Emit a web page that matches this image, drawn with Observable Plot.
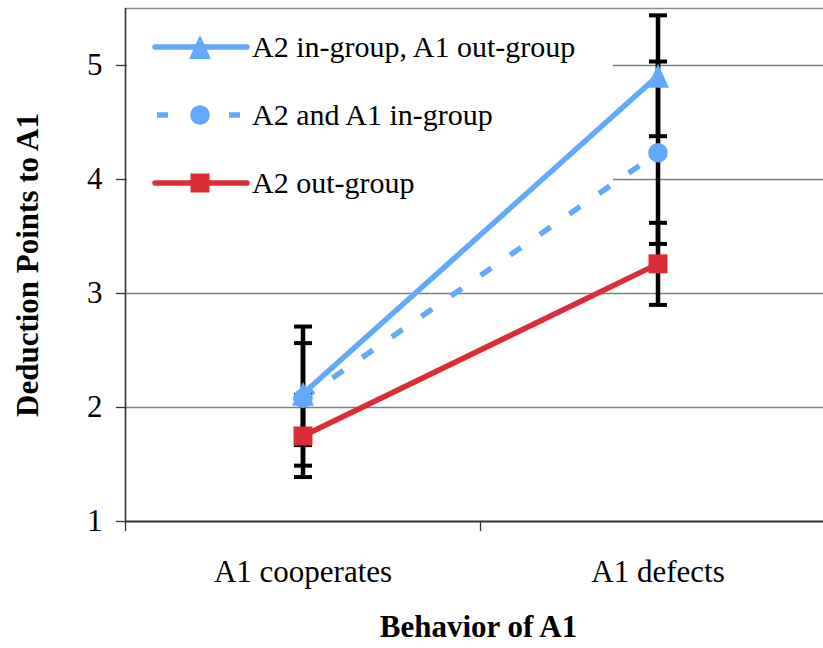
<!DOCTYPE html>
<html><head><meta charset="utf-8">
<script src="https://cdn.jsdelivr.net/npm/d3@7"></script>
<script src="https://cdn.jsdelivr.net/npm/@observablehq/plot@0.6"></script>
<style>
body{margin:0;background:#fff;}
#wrap{position:relative;width:823px;height:648px;font-family:"Liberation Serif","Times New Roman",serif;}
#legend{position:absolute;left:0;top:0;}
</style></head><body><div id="wrap"></div>
<script>
// ---- data ----
const categories = ["A1 cooperates", "A1 defects"];
const seriesNames = ["A2 in-group, A1 out-group", "A2 and A1 in-group", "A2 out-group"];
const inOutMeans = [2.12, 4.91];
const inOutErrUp = [0.59, 0.53];
const inOutErrDown = [0.63, 0.53];
const inInMeans = [2.08, 4.235];
const inInErrUp = [0.485, 0.80];
const inInErrDown = [0.41, 0.80];
const outMeans = [1.75, 3.26];
const outErrUp = [0.36, 0.36];
const outErrDown = [0.36, 0.36];
const yTicks = [1, 2, 3, 4, 5];
const yMax = 5.5;
const yTitle = "Deduction Points to A1";
const xTitle = "Behavior of A1";

// ---- styles ----
const seriesColors = ["#62a9fb", "#62a9fb", "#dc2c36"];
const seriesDash = [null, "13,23", null];
const font = "Liberation Serif, Times New Roman, serif";

const symbols = {
  triangle: {draw(ctx) { ctx.moveTo(0, -12); ctx.lineTo(11, 12); ctx.lineTo(-11, 12); ctx.closePath(); }},
  circle: {draw(ctx) { ctx.moveTo(9.8, 0); ctx.arc(0, 0, 9.8, 0, 2 * Math.PI); }},
  square: {draw(ctx) { ctx.rect(-9.5, -9.5, 19, 19); }},
  cap: {draw(ctx) { ctx.moveTo(-9, 0); ctx.lineTo(9, 0); }}
};
const seriesSymbols = [symbols.triangle, symbols.circle, symbols.square];

const meansBySeries = [inOutMeans, inInMeans, outMeans];
const upBySeries = [inOutErrUp, inInErrUp, outErrUp];
const downBySeries = [inOutErrDown, inInErrDown, outErrDown];
const rows = [];
seriesNames.forEach((name, s) => {
  categories.forEach((c, i) => {
    const m = meansBySeries[s][i];
    rows.push({series: name, s, category: c, pos: i + 0.5, y: m,
      lo: m - downBySeries[s][i], hi: m + upBySeries[s][i]});
  });
});

const order = [2, 1, 0]; // draw red first, then dashed, then solid blue on top
const lineMarks = order.map(s =>
  Plot.line(rows.filter(d => d.s === s), {
    x: "pos", y: "y", stroke: seriesColors[s], strokeWidth: 5.5,
    strokeDasharray: seriesDash[s] || undefined, strokeLinecap: "butt"
  }));
const dotMarks = order.map(s =>
  Plot.dot(rows.filter(d => d.s === s), {
    x: "pos", y: "y", symbol: seriesSymbols[s], fill: seriesColors[s], stroke: "none"
  }));

const chart = Plot.plot({
  width: 823, height: 648,
  marginTop: 8, marginLeft: 125, marginRight: 0, marginBottom: 127,
  style: {fontFamily: font, fontSize: "31px", color: "#000", background: "#fff"},
  x: {type: "linear", domain: [0, categories.length], range: [125, 835]},
  y: {domain: [yTicks[0], yMax]},
  marks: [
    Plot.ruleY(yTicks.slice(1), {stroke: "#7f7f7f", strokeWidth: 1.3}),
    Plot.ruleY([yMax], {stroke: "#8a8a8a", strokeWidth: 1.5}),
    Plot.ruleX([0], {stroke: "#333", strokeWidth: 1.6}),
    Plot.ruleY([yTicks[0]], {stroke: "#333", strokeWidth: 2}),
    Plot.axisY(yTicks, {tickSize: 9, tickPadding: 14, label: null, stroke: "#333", strokeWidth: 1.3,
      fontSize: 31, tickFormat: d => String(d)}),
    Plot.axisX(d3.range(categories.length + 1), {tickSize: 10, tickFormat: () => "", label: null, stroke: "#333", strokeWidth: 1.3}),
    Plot.axisX(categories.map((c, i) => i + 0.5), {tickSize: 0, tickPadding: 38, label: null, fontSize: 31,
      tickFormat: d => categories[Math.floor(d)]}),
    ...lineMarks,
    Plot.ruleX(rows, {x: "pos", y1: "lo", y2: "hi", stroke: "black", strokeWidth: 4.5}),
    Plot.dot(rows, {x: "pos", y: "lo", symbol: symbols.cap, stroke: "black", strokeWidth: 4, fill: "none"}),
    Plot.dot(rows, {x: "pos", y: "hi", symbol: symbols.cap, stroke: "black", strokeWidth: 4, fill: "none"}),
    ...dotMarks,
    Plot.text([yTitle], {text: d => d, frameAnchor: "left", textAnchor: "middle", dx: -97, rotate: -90,
      fontWeight: "bold", fontSize: 31}),
    Plot.text([xTitle], {text: d => d, frameAnchor: "bottom", textAnchor: "middle", dx: 4, dy: 115,
      fontWeight: "bold", fontSize: 31})
  ]
});
const wrap = document.getElementById("wrap");
wrap.appendChild(chart);

// ---- legend: white box behind data (covers gridlines), entries on top ----
const groups = chart.querySelectorAll(":scope > g");
const box = document.createElementNS("http://www.w3.org/2000/svg", "rect");
box.setAttribute("x", 127); box.setAttribute("y", 12);
box.setAttribute("width", 486); box.setAttribute("height", 204);
box.setAttribute("fill", "#fff");
chart.insertBefore(box, groups[1]);

const leg = d3.select(wrap).append("svg").attr("id", "legend")
  .attr("width", 823).attr("height", 648).style("pointer-events", "none");
const rowY = [47, 115, 183];
seriesNames.forEach((name, s) => {
  const g = leg.append("g").attr("transform", `translate(0,${rowY[s]})`);
  g.append("line").attr("x1", seriesDash[s] ? 157 : 155).attr("x2", 247).attr("y1", 0).attr("y2", 0)
    .attr("stroke", seriesColors[s]).attr("stroke-width", 5.5)
    .attr("stroke-linecap", seriesDash[s] ? "butt" : "round")
    .attr("stroke-dasharray", seriesDash[s] ? "11,25" : null);
  const p = d3.path();
  seriesSymbols[s].draw(p, 0);
  g.append("path").attr("transform", "translate(200,0)").attr("d", p.toString()).attr("fill", seriesColors[s]);
  g.append("text").attr("x", 252).attr("y", 0).attr("dy", "0.34em")
    .style("font-family", font).style("font-size", "30px").attr("fill", "#000").text(name);
});
</script>
</body></html>
